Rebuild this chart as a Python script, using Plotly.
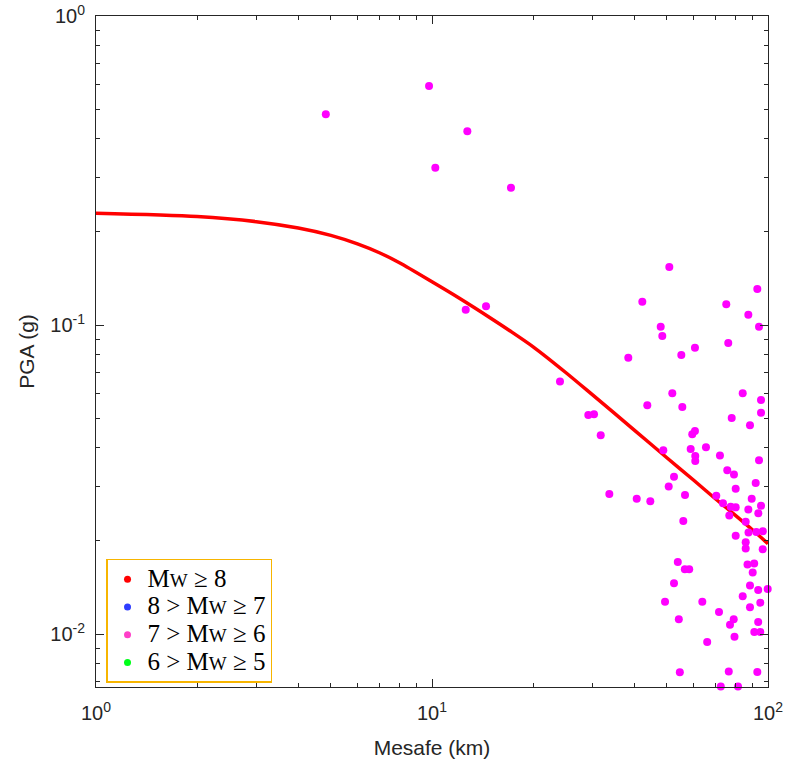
import plotly.graph_objects as go

# ---- data ----
# attenuation curve (distance km, PGA g)
curve_dist = [1, 2, 3, 4, 5, 6, 7, 8, 10, 12, 15, 17, 20, 25, 30, 40, 50, 60, 70, 80, 90, 100]
curve_pga = [0.230, 0.2245, 0.216, 0.206, 0.195, 0.183, 0.171, 0.159, 0.138, 0.1225, 0.105,
             0.096, 0.085, 0.0702, 0.0595, 0.0457, 0.0372, 0.0315, 0.0273, 0.0242, 0.0217, 0.0196]

# recorded PGA values, 7 > Mw >= 6
obs_dist = [4.83, 9.80, 12.74, 10.23, 17.18, 12.60, 14.48, 24.04, 29.19, 30.35,
            31.78, 33.71, 40.67, 44.64, 50.85, 42.26, 47.94, 48.46, 38.39, 55.21,
            60.62, 75.13, 87.39, 92.94, 94.02, 76.16, 43.73, 51.90, 55.59, 84.09,
            95.32, 95.32, 77.98, 88.39, 59.51, 60.62, 48.80, 58.87, 65.37, 60.75,
            60.75, 71.95, 94.02, 75.65, 79.20, 52.51, 50.64, 80.14, 91.91, 56.62,
            70.15, 89.43, 73.46, 77.45, 80.14, 87.39, 95.32, 76.70, 93.58, 55.96,
            85.83, 87.50, 92.31, 96.50, 80.14, 85.83, 85.83, 96.43, 53.89, 56.55,
            58.28, 86.90, 90.97, 90.05, 52.51, 88.39, 93.49, 99.79, 84.09, 49.38,
            63.75, 94.87, 88.39, 71.47, 54.27, 79.06, 77.08, 93.49, 79.49, 91.04,
            94.87, 65.92, 54.65, 76.42, 92.94, 72.36, 81.42]
obs_pga = [0.481, 0.594, 0.424, 0.323, 0.278, 0.112, 0.115, 0.0656, 0.0511, 0.0514,
           0.0440, 0.0284, 0.0274, 0.0269, 0.154, 0.119, 0.0987, 0.0921, 0.0784, 0.0800,
           0.0844, 0.1167, 0.1080, 0.1307, 0.0987, 0.0874, 0.0550, 0.0601, 0.0543, 0.0601,
           0.0572, 0.0520, 0.0500, 0.0474, 0.0443, 0.0454, 0.0393, 0.0397, 0.0402, 0.0377,
           0.0363, 0.0378, 0.0365, 0.0339, 0.0328, 0.0323, 0.0300, 0.0295, 0.0308, 0.0282,
           0.0280, 0.0274, 0.0265, 0.0258, 0.0257, 0.0253, 0.0260, 0.0242, 0.0246, 0.0232,
           0.0231, 0.0213, 0.0214, 0.0215, 0.0208, 0.0198, 0.0189, 0.0188, 0.0171, 0.0162,
           0.0162, 0.0168, 0.0169, 0.0158, 0.01459, 0.01435, 0.01388, 0.01398, 0.01324, 0.01272,
           0.01272, 0.01263, 0.01220, 0.01178, 0.01116, 0.01116, 0.01071, 0.01093, 0.00980, 0.01015,
           0.01015, 0.00942, 0.00752, 0.00756, 0.00754, 0.00676, 0.00676]

legend_names = ["M<span style=\"font-size:19px\">W</span> \u2265 8",
                "8 > M<span style=\"font-size:19px\">W</span> \u2265 7",
                "7 > M<span style=\"font-size:19px\">W</span> \u2265 6",
                "6 > M<span style=\"font-size:19px\">W</span> \u2265 5"]
legend_colors = ["#FF0000", "#2E3DFF", "#FF3FC8", "#00FF1A"]

x_tickvals = [1, 10, 100]
x_ticktext = ["10<sup>0</sup>", "10<sup>1</sup>", "10<sup>2</sup>"]
y_tickvals = [0.01, 0.1, 1]
y_ticktext = ["10<sup>-2</sup>", "10<sup>-1</sup>", "10<sup>0</sup>"]

AX = "#262626"

fig = go.Figure()

fig.add_trace(go.Scatter(
    x=curve_dist, y=curve_pga, mode="lines",
    line=dict(color="#FF0000", width=3.5, shape="spline", smoothing=0.8),
    showlegend=False, hoverinfo="skip"))

fig.add_trace(go.Scatter(
    x=obs_dist, y=obs_pga, mode="markers",
    marker=dict(color="#FF00FF", size=8, line=dict(width=0)),
    cliponaxis=False, showlegend=False))

for name, col in zip(legend_names, legend_colors):
    fig.add_trace(go.Scatter(
        x=[None], y=[None], mode="markers",
        marker=dict(color=col, size=7),
        name="<span style=\"font-size:25px\">" + name + "</span>"))

x_minor = [m * 10 ** e for e in (0, 1) for m in range(2, 10)]
y_minor = [m * 10.0 ** e for e in (-3, -2, -1) for m in range(2, 10) if m * 10.0 ** e > 0.0067]

fig.update_layout(
    template="none",
    width=789, height=771,
    margin=dict(l=96, r=21, t=16, b=84, autoexpand=False),
    paper_bgcolor="white", plot_bgcolor="white",
    font=dict(family="Liberation Sans, Arial, sans-serif", color=AX, size=20),
    showlegend=True,
    legend=dict(
        x=0.0149, y=0.1908, xanchor="left", yanchor="top",
        bgcolor="white", bordercolor="#F7B500", borderwidth=1.5,
        font=dict(family="Liberation Serif, Times New Roman, serif", size=19, color="black"),
        tracegroupgap=0, itemsizing="trace"),
    xaxis=dict(
        type="log", range=[0, 2], automargin=False,
        tickmode="array", tickvals=x_tickvals, ticktext=x_ticktext,
        ticks="inside", ticklen=8, tickwidth=1, tickcolor=AX,
        showline=True, linecolor=AX, linewidth=1, mirror="ticks",
        showgrid=False, zeroline=False,
        tickfont=dict(size=20, color=AX),
        ticklabelstandoff=8, ticklabeloverflow="allow",
        minor=dict(tickmode="array", tickvals=x_minor, ticks="inside", ticklen=4,
                   tickwidth=1, tickcolor=AX, showgrid=False),
        title=dict(text="Mesafe (km)", font=dict(size=21, color=AX), standoff=17)),
    yaxis=dict(
        type="log", range=[-2.1715, 0], automargin=False,
        tickmode="array", tickvals=y_tickvals, ticktext=y_ticktext,
        ticks="inside", ticklen=8, tickwidth=1, tickcolor=AX,
        showline=True, linecolor=AX, linewidth=1, mirror="ticks",
        showgrid=False, zeroline=False,
        tickfont=dict(size=20, color=AX),
        ticklabelstandoff=6, ticklabeloverflow="allow",
        minor=dict(tickmode="array", tickvals=y_minor, ticks="inside", ticklen=4,
                   tickwidth=1, tickcolor=AX, showgrid=False),
        title=dict(text="PGA (g)", font=dict(size=21, color=AX), standoff=9)),
)

# remove the page's default 8px body margin so the figure fills the window
fig.write_html("out.html", config={"displayModeBar": False},
               post_script="document.body.style.margin='0';")
